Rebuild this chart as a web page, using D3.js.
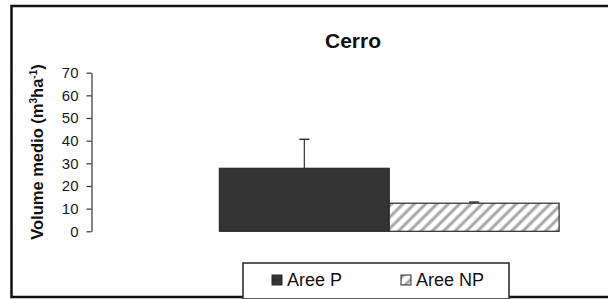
<!DOCTYPE html>
<html>
<head>
<meta charset="utf-8">
<script src="https://cdn.jsdelivr.net/npm/d3@7"></script>
<style>
  body { margin: 0; background: #fff; }
  svg { display: block; font-family: Arial, "Liberation Sans", sans-serif; }
</style>
</head>
<body>
<svg></svg>
<script>
let categories = ["Cerro"];
let series = ["Aree P", "Aree NP"];
let means = [27.8, 12.4];
let errors = [12.8, 0.5];
let yTicks = [0, 10, 20, 30, 40, 50, 60, 70];

let width = 608;
let height = 299;

let svg = d3.select("svg");

let x0;
let x1;
let yScale;

function drawCanvas() {
    svg.attr("width", width)
       .attr("height", height);

    let defs = svg.append("defs");
    let pat = defs.append("pattern")
                  .attr("id", "hatch")
                  .attr("patternUnits", "userSpaceOnUse")
                  .attr("width", 8)
                  .attr("height", 8)
                  .attr("patternTransform", "rotate(45)");
    pat.append("rect")
       .attr("width", 8).attr("height", 8).attr("fill", "#fff");
    pat.append("line")
       .attr("x1", 2).attr("y1", 0).attr("x2", 2).attr("y2", 8)
       .attr("stroke", "#a6a6a6")
       .attr("stroke-width", 3);

    // outer frame (right edge runs off the picture)
    svg.append("rect")
       .attr("x", 11.5)
       .attr("y", 6)
       .attr("width", 640)
       .attr("height", 291)
       .attr("fill", "none")
       .attr("stroke", "#111")
       .attr("stroke-width", 2.5);
}

function generateScales() {
    x0 = d3.scaleBand()
           .domain(categories)
           .range([91.5, 687])
           .paddingInner(0)
           .paddingOuter(0.3765);

    x1 = d3.scaleBand()
           .domain(series)
           .range([0, x0.bandwidth()])
           .padding(0);

    yScale = d3.scaleLinear()
               .domain([0, 70])
               .range([231.3, 72.7]);
}

function drawBars() {
    let rows = series.map((s, i) => ({ name: s, value: means[i], err: errors[i] }));

    let g = svg.append("g")
               .attr("transform", `translate(${x0(categories[0])}, 0)`);

    g.selectAll("rect.bar")
     .data(rows)
     .enter()
     .append("rect")
     .attr("class", "bar")
     .attr("x", d => x1(d.name))
     .attr("y", d => yScale(d.value))
     .attr("width", x1.bandwidth())
     .attr("height", d => yScale(0) - yScale(d.value))
     .attr("fill", (d, i) => i === 0 ? "#333333" : "url(#hatch)")
     .attr("stroke", "#2a2a2a")
     .attr("stroke-width", 1.2);

    // error bars (upper only)
    g.selectAll("line.err")
     .data(rows)
     .enter()
     .append("line")
     .attr("class", "err")
     .attr("x1", d => x1(d.name) + x1.bandwidth() / 2)
     .attr("x2", d => x1(d.name) + x1.bandwidth() / 2)
     .attr("y1", d => yScale(d.value))
     .attr("y2", d => yScale(d.value + d.err))
     .attr("stroke", "#333")
     .attr("stroke-width", 1.2);

    g.selectAll("line.cap")
     .data(rows)
     .enter()
     .append("line")
     .attr("class", "cap")
     .attr("x1", d => x1(d.name) + x1.bandwidth() / 2 - 5)
     .attr("x2", d => x1(d.name) + x1.bandwidth() / 2 + 5)
     .attr("y1", d => yScale(d.value + d.err))
     .attr("y2", d => yScale(d.value + d.err))
     .attr("stroke", "#333")
     .attr("stroke-width", 1.5);
}

function generateAxes() {
    let yAxis = d3.axisLeft(yScale)
                  .tickValues(yTicks)
                  .tickSize(5)
                  .tickSizeOuter(0)
                  .tickPadding(8)
                  .tickFormat(d3.format("d"));

    let ga = svg.append("g")
                .attr("transform", "translate(91.5, 0)")
                .call(yAxis);

    ga.select(".domain").attr("stroke", "#333").attr("stroke-width", 1.2);
    ga.selectAll(".tick line").attr("stroke", "#333").attr("stroke-width", 1.2);
    ga.selectAll(".tick text")
      .attr("fill", "#1a1a1a")
      .style("font-size", "15px")
      .style("font-family", "Arial, 'Liberation Sans', sans-serif");

    // title
    svg.append("text")
       .attr("x", 353)
       .attr("y", 48)
       .attr("text-anchor", "middle")
       .style("font-size", "21px")
       .style("font-weight", "bold")
       .attr("fill", "#111")
       .text("Cerro");

    // y label with superscripts
    let lab = svg.append("text")
                 .attr("transform", "translate(43, 152) rotate(-90)")
                 .attr("text-anchor", "middle")
                 .style("font-size", "16.5px")
                 .style("font-weight", "bold")
                 .attr("fill", "#111");
    lab.append("tspan").text("Volume medio (m");
    lab.append("tspan").attr("dy", -6).style("font-size", "10px").text("3");
    lab.append("tspan").attr("dy", 6).text("ha");
    lab.append("tspan").attr("dy", -6).style("font-size", "10px").text("-1");
    lab.append("tspan").attr("dy", 6).text(")");
}

function drawLegend() {
    let lg = svg.append("g");

    lg.append("rect")
      .attr("x", 243)
      .attr("y", 263)
      .attr("width", 266)
      .attr("height", 36)
      .attr("fill", "#fff")
      .attr("stroke", "#333")
      .attr("stroke-width", 1.6);

    let itemX = [272, 401];

    let items = lg.selectAll("g.item")
                  .data(series)
                  .enter()
                  .append("g")
                  .attr("class", "item")
                  .attr("transform", (d, i) => `translate(${itemX[i]}, 275)`);

    items.append("rect")
         .attr("width", 10)
         .attr("height", 10)
         .attr("fill", (d, i) => i === 0 ? "#333333" : "url(#hatch)")
         .attr("stroke", "#2a2a2a")
         .attr("stroke-width", 1);

    items.append("text")
         .attr("x", 15)
         .attr("y", 10.5)
         .style("font-size", "18px")
         .attr("fill", "#111")
         .text(d => d);
}

drawCanvas();
generateScales();
drawBars();
generateAxes();
drawLegend();
</script>
</body>
</html>
